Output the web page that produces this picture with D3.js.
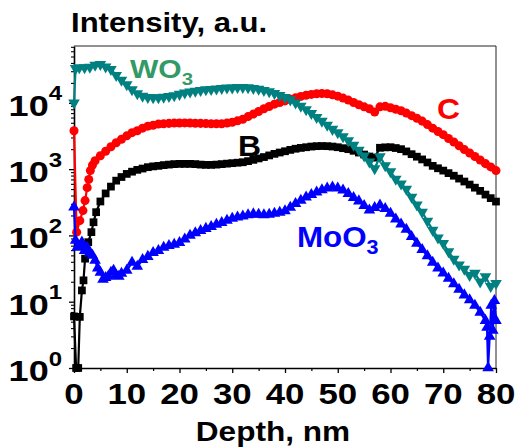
<!DOCTYPE html>
<html><head><meta charset="utf-8">
<script src="https://cdn.jsdelivr.net/npm/d3@7"></script>
<style>html,body{margin:0;padding:0;background:#fff;} svg{display:block;font-family:"Liberation Sans",Arial,sans-serif;font-weight:bold;}</style>
</head><body><svg id="c" width="515" height="447"></svg>
<script>
// ---- data ----
const xTicks = [0,10,20,30,40,50,60,70,80];
const yTickExps = [0,1,2,3,4];

const depthWO3 = [0,0.3,1,2,3,4,5,6,7,8,9,10,11,12,13,14,15,16,17,18,19,20,21,22,23,24,25,26,27,28,29,30,31,32,33,34,35,36,37,38,39,40,41,42,43,44,45,46,47,48,49,50,51,52,53,54,55,56,57,58,59,60,61,62,63,64,65,66,67,68,69,70,71,72,73,74,75,76,77,78,79,80];
const valWO3 = [10000,33000,34000,34000,34500,37000,38000,35000,32000,26000,22000,18800,15800,13800,12600,12100,12000,12000,12200,12500,12900,13500,14100,14700,15100,15500,15800,16000,16300,16600,16800,16900,17100,17200,17000,16600,16100,15500,14800,13950,13000,12150,11150,10000,8900,7900,6950,6050,5300,4600,4000,3550,3100,2700,2300,1940,1590,1290,1020,1550,1130,915,710,600,500,380,290,225,165,120,92,76,57,44,36,31,25,27,20,24,17,19];

const depthC = [0,0.5,1.1,1.7,2.1,2.5,2.8,3.1,3.5,4,5,6,7,8,9,10,11,12,13,14,15,16,17,18,19,20,21,22,23,24,25,26,27,28,29,30,31,32,33,34,35,36,37,38,39,40,41,42,43,44,45,46,47,48,49,50,51,52,53,54,55,56,57,58,59,60,61,62,63,64,65,66,67,68,69,70,71,72,73,74,75,76,77,78,79,80];
const valC = [3800,112,167,237,335,525,700,950,1150,1340,1590,1860,2180,2500,2820,3180,3550,3800,4150,4450,4600,4780,4840,4900,4950,4970,4980,4970,4930,4900,4870,4840,4840,4840,4950,5100,5350,5660,6200,6760,7400,8130,8800,9550,10100,10700,11300,11900,12500,13000,13400,13700,13800,13700,13200,12600,11800,11000,10100,9350,8700,8130,7250,8700,8850,8440,8000,7600,7000,6400,5850,5300,4700,4150,3700,3310,2900,2560,2250,1970,1750,1550,1370,1210,1080,950];

const depthB = [0,0.4,0.8,1.1,1.5,1.8,2.1,2.7,3.3,3.7,4.2,5,6,7,8,9,10,11,12,13,14,15,16,17,18,19,20,21,22,23,24,25,26,27,28,29,30,31,32,33,34,35,36,37,38,39,40,41,42,43,44,45,46,47,48,49,50,51,52,53,54,55,56,57,58,59,60,61,62,63,64,65,66,67,68,69,70,71,72,73,74,75,76,77,78,79,80];
const valB = [6,1,1,5.9,14.8,21,44.6,79,112,158,224,325,430,545,670,760,847,915,975,1020,1070,1100,1120,1150,1170,1190,1200,1200,1200,1190,1170,1160,1160,1170,1190,1210,1230,1250,1270,1320,1380,1450,1520,1610,1700,1780,1860,1950,2030,2090,2140,2190,2220,2230,2220,2190,2140,2070,2000,1890,1780,1660,1550,1490,2100,2130,2140,2080,2000,1850,1680,1540,1400,1260,1120,1030,950,870,795,720,650,585,525,470,413,365,324];

const depthMoO3 = [0,0.3,0.6,1,1.5,2,2.5,3,3.5,4,4.5,5,5.5,6,6.5,7,7.5,8,8.5,9,10,11,12,13,14,15,16,17,18,19,20,21,22,23,24,25,26,27,28,29,30,31,32,33,34,35,36,37,38,39,40,41,42,43,44,45,46,47,48,49,50,51,52,53,54,55,56,57,58,59,60,61,62,63,64,65,66,67,68,69,70,71,72,73,74,75,76,77,78,78.3,78.5,78.8,79.1,79.4,79.7,80];
const valMoO3 = [266,84,66,68,79,59,66,54,50,42,32,27.6,21.7,23,24,27.6,29.6,25,24,26.7,29.6,39,34,43,48,55,59,66,70,73,78,88,100,109,118,127,136,146,156,168,180,188,195,203,210,207,203,208,214,222,234,265,302,338,377,412,450,485,517,535,517,480,428,372,330,282,240,263,287,254,214,176,148,123,96,76,61,49,39,32,27,22.4,18.5,15.3,12.6,10.6,8.8,6.9,5.2,4.1,1,3.0,8.8,3.7,10.4,5.2];

// ---- layout ----
const svg = d3.select('#c');
const M = {left:74, right:496, top:46, bottom:368};
const x = d3.scaleLinear().domain([0,80]).range([M.left, M.right]);
const y = d3.scaleLog().domain([1, 72000]).range([M.bottom, M.top]);

function stretchedText(px, py, sx, size, anchor, color){
  const g = svg.append('g').attr('transform', `translate(${px},${py}) scale(${sx},1)`);
  return g.append('text').attr('x',0).attr('y',0).attr('font-size',size)
    .attr('text-anchor',anchor).attr('fill',color||'#000');
}

// frame
svg.append('line').attr('x1',M.left).attr('x2',M.right).attr('y1',M.top).attr('y2',M.top).attr('stroke','#222').attr('stroke-width',1);
svg.append('line').attr('x1',M.right).attr('x2',M.right).attr('y1',M.top).attr('y2',M.bottom).attr('stroke','#222').attr('stroke-width',1);

// x axis
const xMinor = d3.range(5, 80, 10);
svg.append('g').attr('transform',`translate(0,${M.bottom})`)
  .call(d3.axisBottom(x).tickValues(xMinor).tickSize(3).tickFormat(''))
  .call(g=>{g.select('.domain').remove(); g.selectAll('line').attr('stroke-width',1.2);});
svg.append('g').attr('transform',`translate(0,${M.bottom})`)
  .call(d3.axisBottom(x).tickValues(xTicks).tickSize(5).tickSizeOuter(0).tickFormat(''))
  .call(g=>{g.select('.domain').attr('stroke-width',1.6); g.selectAll('line').attr('stroke-width',1.3);});

// y axis
const yMinor = [];
for (let e=0;e<=4;e++) for (let k=2;k<=9;k++){ const v=k*Math.pow(10,e); if (v<=72000) yMinor.push(v); }
svg.append('g').attr('transform',`translate(${M.left},0)`)
  .call(d3.axisLeft(y).tickValues(yMinor).tickSize(3).tickFormat(''))
  .call(g=>{g.select('.domain').remove(); g.selectAll('line').attr('stroke-width',1.1);});
svg.append('g').attr('transform',`translate(${M.left},0)`)
  .call(d3.axisLeft(y).tickValues(yTickExps.map(e=>Math.pow(10,e))).tickSize(5).tickSizeOuter(0).tickFormat(''))
  .call(g=>{g.select('.domain').attr('stroke-width',1.6); g.selectAll('line').attr('stroke-width',1.3);});

// tick labels
xTicks.forEach(t=>{
  stretchedText(x(t), 404, 1.2, 29, 'middle').text(t);
});
yTickExps.forEach(e=>{
  const t = stretchedText(62, y(Math.pow(10,e))+13, 1.2, 30, 'end');
  t.append('tspan').text('10');
  t.append('tspan').attr('font-size',20).attr('dy',-15.5).text(e);
});

// axis titles
stretchedText(71, 32, 1.13, 27.5, 'start').text('Intensity, a.u.');
stretchedText(273, 441, 1.17, 27, 'middle').text('Depth, nm');

// series
function drawSeries(depths, vals, color, sym, size, rot){
  const pts = depths.map((d,i)=>[x(d), y(vals[i])]);
  const g = svg.append('g');
  g.append('path').attr('d', d3.line()(pts)).attr('fill','none').attr('stroke',color).attr('stroke-width',2.2).attr('stroke-linejoin','round');
  g.selectAll('path.m').data(pts).enter().append('path').attr('class','m')
    .attr('d', d3.symbol().type(sym).size(size))
    .attr('transform', p=>`translate(${p[0]},${p[1]})${rot?' rotate(180)':''}`)
    .attr('fill', color);
}
drawSeries(depthB, valB, '#000000', d3.symbolSquare, 60, false);
drawSeries(depthC, valC, '#ff0000', d3.symbolCircle, 64, false);
drawSeries(depthMoO3, valMoO3, '#0000ff', d3.symbolTriangle, 58, false);
drawSeries(depthWO3, valWO3, '#008080', d3.symbolTriangle, 58, true);

// series labels
let t = stretchedText(130, 78, 1.2, 25, 'start', '#339966');
t.append('tspan').text('WO');
t.append('tspan').attr('font-size',17).attr('dy',7).text('3');
stretchedText(437, 119, 1.1, 29, 'start', '#ff0000').text('C');
stretchedText(238, 156, 1.1, 29, 'start', '#000000').text('B');
t = stretchedText(297, 247, 1.08, 29, 'start', '#0000ff');
t.append('tspan').text('MoO');
t.append('tspan').attr('font-size',20).attr('dy',7).text('3');
</script></body></html>
